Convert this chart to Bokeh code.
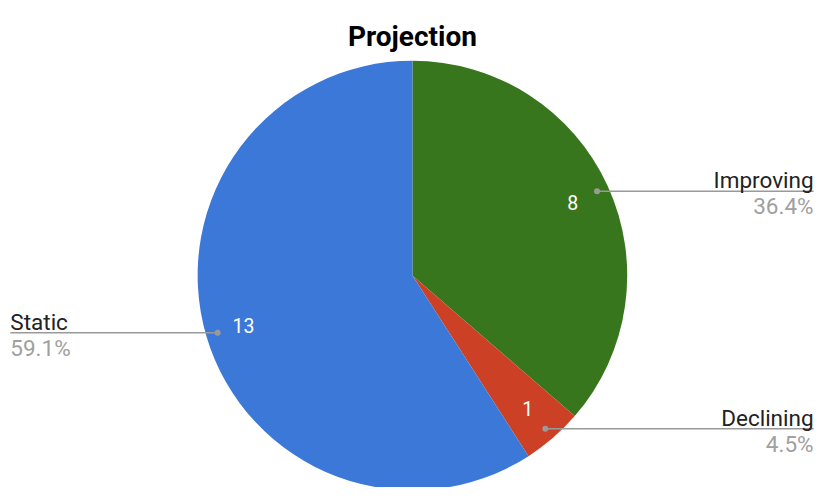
import math
from bokeh.plotting import figure
from bokeh.models import Range1d, ColumnDataSource
from bokeh.core.properties import value
from bokeh.embed import file_html
from bokeh.resources import INLINE

title = "Projection"
categories = ["Improving", "Declining", "Static"]
counts = [8, 1, 13]
colors = ["#38761d", "#cc4125", "#3c78d8"]

# reference canvas units (832 x 503) mapped onto the 816 x 487 frame
RW, RH = 832, 503
W, H = 816, 487
p = figure(width=W, height=H, output_backend="svg", toolbar_location=None,
           x_range=Range1d(0, RW), y_range=Range1d(0, RH), min_border=0)
p.axis.visible = False
p.grid.visible = False
p.outline_line_color = None
p.background_fill_color = "white"
p.border_fill_color = "white"


def Y(ry):
    return RH - ry


cx, cy, r = 420, Y(284), 219.0
ys = (RH / H) / (RW / W)  # y-unit stretch so the circle stays round
total = sum(counts)
starts, ends, mids = [], [], []
a = math.pi / 2
for c in counts:
    span = 2 * math.pi * c / total
    starts.append(a)
    ends.append(a - span)
    mids.append(a - span / 2)
    a -= span

src = ColumnDataSource(dict(start=starts, end=ends, color=colors))
p.wedge(x=cx, y=cy, radius=r, start_angle="start", end_angle="end",
        direction="clock", fill_color="color", line_color=None, source=src)

# value labels inside slices
vx = [cx + 0.82 * r * math.cos(m) for m in mids]
vy = [cy + 0.82 * r * ys * math.sin(m) for m in mids]
p.text(x=vx, y=vy, text=[str(c) for c in counts], text_color="white",
       text_font=value("Roboto"), text_font_size="19.5px",
       text_align="center", text_baseline="middle")

# leader lines, dots and outside labels
pct = ["%.1f%%" % (100.0 * c / total) for c in counts]
for m, name, pc in zip(mids, categories, pct):
    dx = cx + 0.945 * r * math.cos(m)
    dy = cy + 0.945 * r * ys * math.sin(m)
    right = math.cos(m) > 0
    ex = 829 if right else 10
    p.line([dx, ex], [dy, dy], line_color="#9a9a9a", line_width=1.5)
    p.scatter([dx], [dy], size=6, fill_color="#9a9a9a", line_color=None)
    align = "right" if right else "left"
    p.text(x=[ex], y=[dy - 2], text=[name], text_color="#222222",
           text_font=value("Roboto"), text_font_size="22.5px",
           text_align=align, text_baseline="bottom")
    p.text(x=[ex], y=[dy - 2], text=[pc], text_color="#a0a0a0",
           text_font=value("Roboto"), text_font_size="22.5px",
           text_align=align, text_baseline="top")

p.text(x=[420], y=[Y(37)], text=[title], text_color="#000000",
       text_font=value("Roboto"), text_font_size="28px", text_font_style="bold",
       text_align="center", text_baseline="alphabetic")

open("out.html", "w").write(file_html(p, INLINE))
